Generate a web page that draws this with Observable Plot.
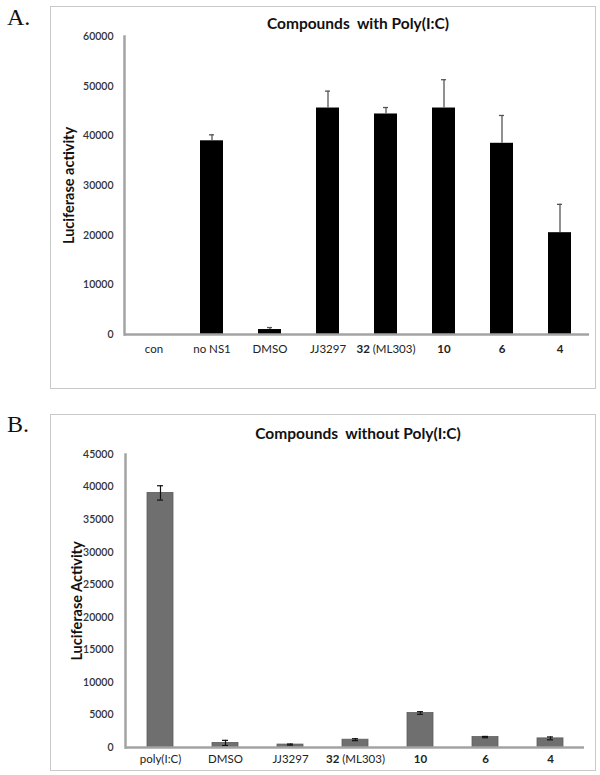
<!DOCTYPE html>
<html><head><meta charset="utf-8">
<script src="https://cdn.jsdelivr.net/npm/d3@7"></script>
<script src="https://cdn.jsdelivr.net/npm/@observablehq/plot@0.6"></script>
<style>
body{margin:0;background:#fff;font-family:Lato,sans-serif;}
#wrap{position:relative;width:600px;height:775px;overflow:hidden;background:#fff;}
.box{position:absolute;border:1.5px solid #c9c9c9;box-sizing:border-box;}
.letter{position:absolute;left:7px;font-family:"Liberation Serif","DejaVu Serif",serif;font-size:24px;line-height:1;color:#111;}
.title{position:absolute;left:358px;font-weight:bold;font-size:15.5px;line-height:1;transform:translateX(-50%);white-space:pre;color:#111;}
.panel{position:absolute;left:0;}
svg g[aria-label="y-axis label"]{font-weight:bold;font-size:14.5px;fill:#111;}
svg g[aria-label="y-axis tick label"]{fill:#333;font-weight:600;}
svg g[aria-label="x-axis tick label"]{fill:#222;}
</style></head><body>
<div id="wrap">
  <div class="box" style="left:50px;top:6px;width:546px;height:383px;"></div>
  <div class="box" style="left:50px;top:414px;width:546px;height:357px;"></div>
  <div class="letter" style="top:5px;">A.</div>
  <div class="letter" style="top:412px;">B.</div>
  <div id="panelA" class="panel" style="top:0px;"></div>
  <div id="panelB" class="panel" style="top:400px;"></div>
  <div class="title" style="top:16px;">Compounds  with Poly(I:C)</div>
  <div class="title" style="top:426px;">Compounds  without Poly(I:C)</div>
</div>
<script>
// ---- Panel A data ----
const categoriesA = ["con", "no NS1", "DMSO", "JJ3297", "32 (ML303)", "10", "6", "4"];
const boldPartA   = ["", "", "", "", "32", "10", "6", "4"];
const valuesA     = [0, 39000, 1000, 45600, 44400, 45600, 38500, 20500];
const errorsA     = [0, 1200, 400, 3400, 1300, 5700, 5600, 5700];
const ticksA      = [0, 10000, 20000, 30000, 40000, 50000, 60000];

// ---- Panel B data ----
const categoriesB = ["poly(I:C)", "DMSO", "JJ3297", "32 (ML303)", "10", "6", "4"];
const boldPartB   = ["", "", "", "32", "10", "6", "4"];
const valuesB     = [39100, 700, 450, 1200, 5300, 1600, 1400];
const errorsB     = [1100, 400, 80, 150, 200, 100, 220];
const ticksB      = [0, 5000, 10000, 15000, 20000, 25000, 30000, 35000, 40000, 45000];

const dataA = categoriesA.map((c, i) => ({cat: c, value: valuesA[i], err: errorsA[i]}));
const dataB = categoriesB.map((c, i) => ({cat: c, value: valuesB[i], err: errorsB[i]}));

function boldify(svg, cats, bolds) {
  svg.querySelectorAll('g[aria-label="x-axis tick label"] text').forEach(t => {
    const label = t.textContent;
    const i = cats.indexOf(label);
    if (i < 0 || !bolds[i]) return;
    const b = bolds[i];
    const rest = label.slice(b.length);
    t.textContent = "";
    const ns = "http://www.w3.org/2000/svg";
    const s1 = document.createElementNS(ns, "tspan");
    s1.setAttribute("font-weight", "bold");
    s1.textContent = b;
    t.appendChild(s1);
    if (rest) {
      const s2 = document.createElementNS(ns, "tspan");
      s2.textContent = rest;
      t.appendChild(s2);
    }
  });
}

const axisGray = "#a3a3a3";

const chartA = Plot.plot({
  width: 600, height: 395,
  marginTop: 36, marginBottom: 61, marginLeft: 124, marginRight: 11,
  style: {background: "transparent", fontFamily: "Lato, sans-serif", overflow: "visible"},
  x: {domain: categoriesA, paddingInner: 0.6, paddingOuter: 0.3, axis: null},
  y: {domain: [0, 60000], axis: null},
  marks: [
    Plot.barY(dataA, {x: "cat", y: "value", fill: "#000"}),
    Plot.ruleX(dataA.filter(d => d.err > 0), {x: "cat", y1: "value", y2: d => d.value + d.err, stroke: "#555", strokeWidth: 1.3}),
    Plot.tickY(dataA.filter(d => d.err > 0), {x: "cat", y: d => d.value + d.err, stroke: "#555", strokeWidth: 1.3, insetLeft: 9, insetRight: 9}),
    Plot.frame({anchor: "left", stroke: axisGray, strokeWidth: 2.5}),
    Plot.ruleY([0], {stroke: axisGray, strokeWidth: 2.5}),
    Plot.axisY({ticks: ticksA, tickSize: 0, tickPadding: 11, fontSize: 10.5, tickFormat: d3.format("d"),
      label: "Luciferase activity", labelAnchor: "center", labelOffset: 61, labelArrow: "none"}),
    Plot.axisX({tickSize: 0, tickPadding: 10, fontSize: 11.5, label: null})
  ]
});
boldify(chartA, categoriesA, boldPartA);
document.getElementById("panelA").appendChild(chartA);

const chartB = Plot.plot({
  width: 600, height: 375,
  marginTop: 54, marginBottom: 28, marginLeft: 125, marginRight: 16,
  style: {background: "transparent", fontFamily: "Lato, sans-serif", overflow: "visible"},
  x: {domain: categoriesB, paddingInner: 0.6, paddingOuter: 0.3, axis: null},
  y: {domain: [0, 45000], axis: null},
  marks: [
    Plot.barY(dataB, {x: "cat", y: "value", fill: "#6f6f6f", stroke: "#5e5e5e", strokeWidth: 0.8}),
    Plot.ruleX(dataB, {x: "cat", y1: d => d.value - d.err, y2: d => d.value + d.err, stroke: "#111", strokeWidth: 1.2}),
    Plot.tickY(dataB, {x: "cat", y: d => d.value + d.err, stroke: "#111", strokeWidth: 1.2, insetLeft: 10, insetRight: 10}),
    Plot.tickY(dataB, {x: "cat", y: d => d.value - d.err, stroke: "#111", strokeWidth: 1.2, insetLeft: 10, insetRight: 10}),
    Plot.frame({anchor: "left", stroke: axisGray, strokeWidth: 2.5}),
    Plot.ruleY([0], {stroke: axisGray, strokeWidth: 2.5}),
    Plot.axisY({ticks: ticksB, tickSize: 0, tickPadding: 12, fontSize: 10.5, tickFormat: d3.format("d"),
      label: "Luciferase Activity", labelAnchor: "center", labelOffset: 54, labelArrow: "none"}),
    Plot.axisX({tickSize: 0, tickPadding: 7, fontSize: 11.5, label: null})
  ]
});
boldify(chartB, categoriesB, boldPartB);
document.getElementById("panelB").appendChild(chartB);
</script>
</body></html>
